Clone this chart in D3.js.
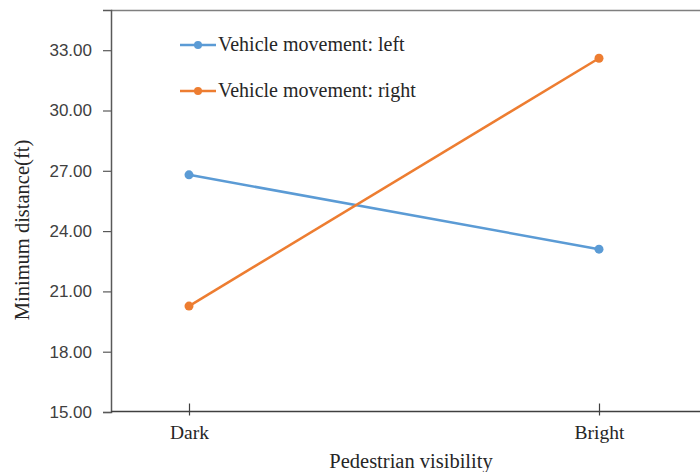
<!DOCTYPE html>
<html><head><meta charset="utf-8">
<script src="https://cdn.jsdelivr.net/npm/d3@7"></script>
<style>body{margin:0;background:#fff}svg{display:block}</style>
</head><body>
<svg id="c" width="700" height="472"></svg>
<script>
const categories = ["Dark", "Bright"];
const seriesNames = ["Vehicle movement: left", "Vehicle movement: right"];
const leftValues = [26.8, 23.1];
const rightValues = [20.27, 32.6];
const yTicks = [15, 18, 21, 24, 27, 30, 33];
const colors = ["#5B9BD5", "#ED7D31"];

const svg = d3.select("#c");
const x = d3.scalePoint().domain(categories).range([189, 599]);
const y = d3.scaleLinear().domain([15, 35]).range([412, 10]);

// frame top
svg.append("line").attr("x1",111).attr("x2",700).attr("y1",10.5).attr("y2",10.5)
  .attr("stroke","#7f7f7f").attr("stroke-width",1.5);

// y axis
const yAxis = svg.append("g").attr("transform","translate(111,0)")
  .call(d3.axisLeft(y).tickValues(yTicks).tickFormat(d3.format(".2f")).tickSizeOuter(0).tickSize(8).tickPadding(11));
yAxis.select(".domain").attr("stroke","#595959").attr("stroke-width",1.5);
yAxis.selectAll(".tick line").attr("stroke","#595959").attr("stroke-width",1.2);
yAxis.selectAll("text").attr("font-family","Liberation Sans, Arial, sans-serif").attr("font-size",17).attr("fill","#404040");

// x axis
svg.append("line").attr("x1",111).attr("x2",700).attr("y1",411.5).attr("y2",411.5)
  .attr("stroke","#404040").attr("stroke-width",1.5);
const xAxis = svg.append("g").attr("transform","translate(0,411.5)")
  .call(d3.axisBottom(x).tickSize(0).tickPadding(14));
xAxis.select(".domain").remove();
xAxis.selectAll(".tick").append("line").attr("y1",-8).attr("y2",4).attr("stroke","#404040").attr("stroke-width",1.2);
xAxis.selectAll("text").attr("font-family","Liberation Serif, Times New Roman, serif").attr("font-size",19.5).attr("fill","#262626");

// series
const series = [leftValues, rightValues];
const line = d3.line().x((d,i)=>x(categories[i])).y(d=>y(d));
series.forEach((vals, s) => {
  svg.append("path").attr("d", line(vals)).attr("fill","none")
    .attr("stroke", colors[s]).attr("stroke-width", 2.5);
  svg.selectAll(null).data(vals).enter().append("circle")
    .attr("cx",(d,i)=>x(categories[i])).attr("cy",d=>y(d)).attr("r",4.5).attr("fill",colors[s]);
});

// legend
const legendY = [45, 91];
seriesNames.forEach((name, s) => {
  const g = svg.append("g").attr("transform",`translate(180,${legendY[s]})`);
  g.append("line").attr("x1",0).attr("x2",36).attr("stroke",colors[s]).attr("stroke-width",2.5);
  g.append("circle").attr("cx",18).attr("r",4).attr("fill",colors[s]);
  g.append("text").attr("x",38).attr("y",6).text(name)
    .attr("font-family","Liberation Serif, Times New Roman, serif").attr("font-size",20).attr("fill","#262626");
});

// axis titles
svg.append("text").attr("x",411).attr("y",468).attr("text-anchor","middle").text("Pedestrian visibility")
  .attr("font-family","Liberation Serif, Times New Roman, serif").attr("font-size",20.5).attr("fill","#262626");
svg.append("text").attr("transform","translate(29,230) rotate(-90)").attr("text-anchor","middle").text("Minimum distance(ft)")
  .attr("font-family","Liberation Serif, Times New Roman, serif").attr("font-size",20.5).attr("fill","#262626");
</script>
</body></html>
